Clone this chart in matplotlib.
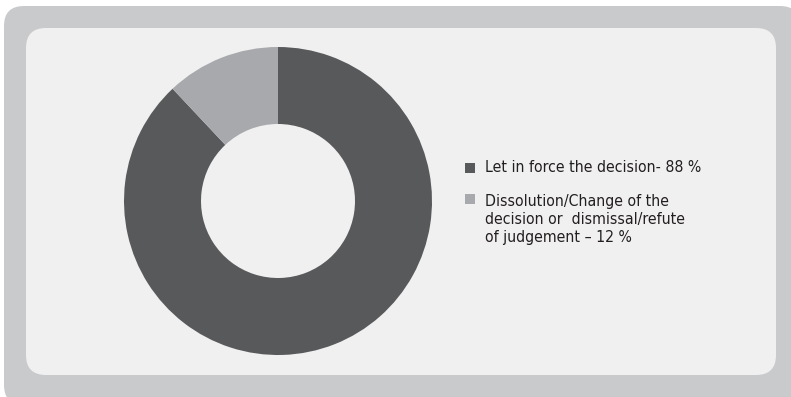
import matplotlib.pyplot as plt
from matplotlib.patches import FancyBboxPatch, Rectangle

labels = ["Let in force the decision", "Dissolution/Change of the\ndecision or  dismissal/refute\nof judgement"]
label_suffix = ["- ", " \u2013 "]
shares = [88, 12]
colors = ["#58595b", "#a7a9ac"]

W, H = 791, 397
fig = plt.figure(figsize=(W / 100, H / 100), dpi=100)
fig.patch.set_facecolor("white")

# background panels, drawn in pixel coordinates
bg = fig.add_axes([0, 0, 1, 1])
bg.set_xlim(0, W)
bg.set_ylim(H, 0)
bg.axis("off")
bg.add_patch(FancyBboxPatch((4, 6), 796, 399,
                            boxstyle="round,pad=0,rounding_size=20",
                            fc="#c9cacc", ec="none"))
bg.add_patch(FancyBboxPatch((26, 28), 750, 347,
                            boxstyle="round,pad=0,rounding_size=20",
                            fc="#f0f0f0", ec="none"))

# donut
cx, cy, R = 278, 201, 154
ax = fig.add_axes([(cx - R) / W, (H - cy - R) / H, 2 * R / W, 2 * R / H])
ax.pie(shares, colors=colors, startangle=90, counterclock=False,
       radius=1, wedgeprops=dict(width=0.5, edgecolor="none"))
ax.set_xlim(-1, 1)
ax.set_ylim(-1, 1)
ax.axis("off")

# legend
rows_y = [168, 199]
text_top = [160, 194]
for lab, suf, val, col, y, ty in zip(labels, label_suffix, shares, colors, rows_y, text_top):
    bg.add_patch(Rectangle((465, y - 5), 10, 10, fc=col, ec="none"))
    bg.text(485, ty, f"{lab}{suf}{val} %", fontsize=11.3, family="DejaVu Sans",
            fontstretch="condensed", color="#231f20", va="top", ha="left",
            linespacing=1.24)

fig.savefig("out.png", dpi=100)
